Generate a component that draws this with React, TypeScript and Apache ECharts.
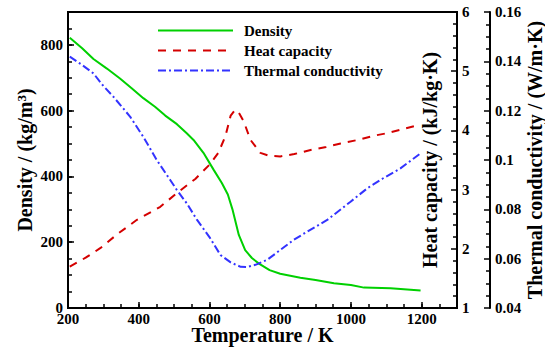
import React, { useEffect, useRef } from "react";
import * as echarts from "echarts";

const densityT = [205, 240, 272, 310, 347, 380, 413, 446, 475, 508, 535, 555, 583, 612, 635, 652, 665, 683, 701, 720, 740, 770, 800, 857, 900, 952, 1000, 1037, 1112, 1150, 1197];
const densityV = [822, 790, 757, 728, 698, 668, 638, 612, 585, 559, 532, 511, 472, 420, 380, 345, 300, 222, 176, 152, 135, 115, 104, 92, 85, 75, 70, 62, 60, 57, 53];

const heatT = [205, 250, 291, 340, 395, 461, 512, 560, 600, 625, 645, 660, 672, 680, 697, 716, 744, 770, 800, 840, 886, 930, 971, 1020, 1065, 1100, 1140, 1197];
const heatV = [1.70, 1.85, 2.01, 2.25, 2.49, 2.71, 2.96, 3.18, 3.42, 3.62, 3.90, 4.25, 4.34, 4.33, 4.15, 3.84, 3.62, 3.57, 3.56, 3.60, 3.67, 3.72, 3.78, 3.84, 3.91, 3.95, 4.01, 4.10];

const condT = [205, 240, 272, 300, 328, 376, 413, 451, 489, 508, 536, 565, 602, 631, 660, 688, 706, 730, 763, 800, 838, 885, 933, 999, 1046, 1090, 1140, 1197];
const condV = [0.1419, 0.1385, 0.1351, 0.130, 0.1257, 0.1175, 0.1094, 0.1000, 0.0919, 0.0878, 0.0824, 0.0757, 0.0683, 0.0615, 0.0585, 0.0567, 0.0566, 0.0575, 0.0595, 0.0635, 0.0676, 0.0717, 0.0757, 0.0831, 0.0885, 0.0925, 0.0966, 0.1027];

const seriesNames = ["Density", "Heat capacity", "Thermal conductivity"];
const xRange = [200, 1300];
const densityRange = [0, 900];
const heatRange = [1, 6];
const condRange = [0.04, 0.16];

const FONT = '"Liberation Serif", "Times New Roman", serif';

const pairs = (xs: number[], ys: number[]) => xs.map((x, i) => [x, ys[i]]);

const labelStyle = { color: "#000", fontFamily: FONT, fontWeight: "bold" as const, fontSize: 15 };
const nameStyle = { color: "#000", fontFamily: FONT, fontWeight: "bold" as const, fontSize: 20 };
const lineAx = { show: true, lineStyle: { color: "#000", width: 2 } };
const majorTick = { show: true, inside: true, length: 6, lineStyle: { color: "#000", width: 1.5 } };
const minorTickStyle = (n: number) => ({ show: true, splitNumber: n, length: 4, lineStyle: { color: "#000", width: 1.5 } });
const plain = (v: number) => String(v);

export default function App() {
  const ref = useRef<HTMLDivElement>(null);
  useEffect(() => {
    const chart = echarts.init(ref.current!, null, { renderer: "svg" });
    const option: any = {
      animation: false,
      backgroundColor: "#fff",
      grid: {
        left: 68, right: 88, top: 12, bottom: 40,
        show: true, borderColor: "#000", borderWidth: 2,
        containLabel: false, outerBoundsMode: "none",
      },
      legend: {
        orient: "vertical", left: 157, top: 23, padding: 0,
        itemWidth: 75, itemHeight: 14, itemGap: 5,
        itemStyle: { color: "transparent", borderWidth: 0, opacity: 0 },
        textStyle: { ...labelStyle, lineHeight: 14, padding: [0, 0, 0, 6] },
        data: seriesNames,
      },
      xAxis: [
        {
          type: "value", position: "bottom", min: xRange[0], max: xRange[1], interval: 200,
          axisLine: lineAx, axisTick: majorTick, splitLine: { show: false },
          axisLabel: { ...labelStyle, margin: 3, showMaxLabel: false, formatter: plain },
          name: "Temperature / K", nameLocation: "middle", nameGap: 27, nameMoveOverlap: false,
          nameTextStyle: { ...nameStyle, verticalAlign: "middle" },
        },
        {
          type: "value", position: "bottom", min: xRange[0], max: xRange[1], interval: 50,
          axisLine: { show: false }, axisLabel: { show: false }, splitLine: { show: false },
          axisTick: { show: true, inside: true, length: 4, lineStyle: { color: "#000", width: 1.5 } },
        },
      ],
      yAxis: [
        {
          type: "value", position: "left", min: densityRange[0], max: densityRange[1], interval: 200,
          axisLine: lineAx, axisTick: majorTick, splitLine: { show: false },
          axisLabel: { ...labelStyle, margin: 5, showMaxLabel: false, formatter: plain },
          name: "Density / (kg/m{sup|3})", nameLocation: "middle", nameGap: 43, nameRotate: 90, nameMoveOverlap: false,
          nameTextStyle: {
            ...nameStyle, verticalAlign: "middle", align: "center",
            rich: { sup: { ...nameStyle, fontSize: 13, verticalAlign: "top", lineHeight: 20 } },
          },
        },
        {
          type: "value", position: "right", min: heatRange[0], max: heatRange[1], interval: 1,
          axisLine: lineAx, axisTick: majorTick, minorTick: minorTickStyle(5), splitLine: { show: false },
          axisLabel: { ...labelStyle, margin: 5 },
          name: "Heat capacity / (kJ/kg·K)", nameLocation: "middle", nameGap: -27, nameRotate: 90, nameMoveOverlap: false,
          nameTextStyle: { ...nameStyle, verticalAlign: "middle", align: "center" },
        },
        {
          type: "value", position: "right", offset: 33, min: condRange[0], max: condRange[1], interval: 0.02,
          axisLine: lineAx, axisTick: majorTick, minorTick: minorTickStyle(4), splitLine: { show: false },
          axisLabel: { ...labelStyle, margin: 5 },
          name: "Thermal conductivity / (W/m·K)", nameLocation: "middle", nameGap: 45, nameRotate: 90, nameMoveOverlap: false,
          nameTextStyle: { ...nameStyle, verticalAlign: "middle", align: "center" },
        },
        {
          type: "value", position: "left", min: densityRange[0], max: densityRange[1], interval: 50,
          axisLine: { show: false }, axisLabel: { show: false }, splitLine: { show: false },
          axisTick: { show: true, inside: true, length: 4, lineStyle: { color: "#000", width: 1.5 } },
        },
      ],
      series: [
        {
          name: seriesNames[0], type: "line", xAxisIndex: 0, yAxisIndex: 0, symbol: "none",
          data: pairs(densityT, densityV), itemStyle: { color: "#00d000" },
          lineStyle: { color: "#00d000", width: 2, type: "solid" },
        },
        {
          name: seriesNames[1], type: "line", xAxisIndex: 0, yAxisIndex: 1, symbol: "none",
          data: pairs(heatT, heatV), itemStyle: { color: "#d40000" },
          lineStyle: { color: "#d40000", width: 2, type: [8, 7] },
        },
        {
          name: seriesNames[2], type: "line", xAxisIndex: 0, yAxisIndex: 2, symbol: "none",
          data: pairs(condT, condV), itemStyle: { color: "#3333ff" },
          lineStyle: { color: "#3333ff", width: 2, type: [8, 3, 2, 3] },
        },
      ],
    };
    chart.setOption(option);
    return () => chart.dispose();
  }, []);
  return <div ref={ref} style={{ position: "absolute", left: 0, top: 0, width: 545, height: 348 }} />;
}
